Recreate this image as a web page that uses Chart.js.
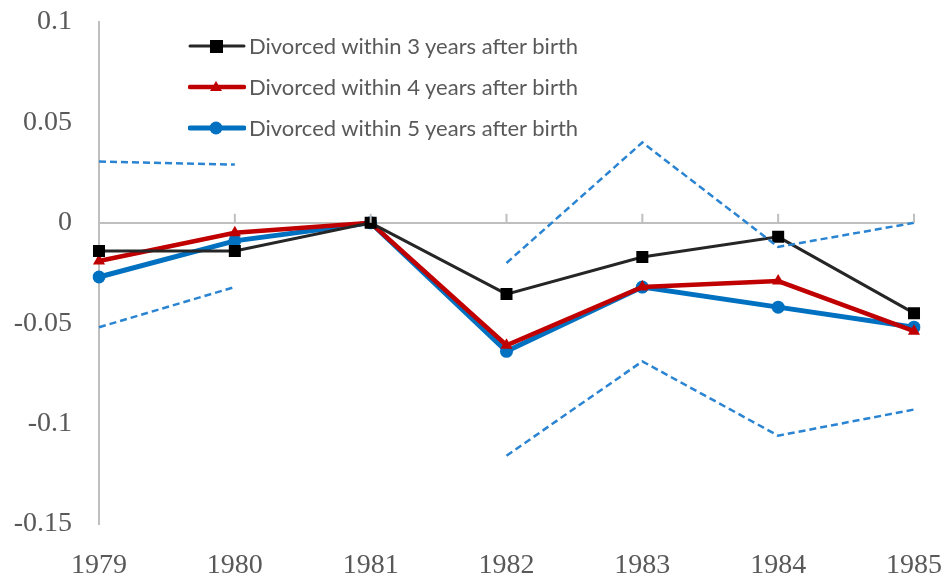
<!DOCTYPE html>
<html>
<head>
<meta charset="utf-8">
<script src="https://cdn.jsdelivr.net/npm/chart.js@4"></script>
<style>
  html, body { margin: 0; padding: 0; background: #fff; }
  #wrap { position: relative; width: 944px; height: 576px; }
  #legend { position: absolute; left: 188px; top: 25px; font-family: Lato, 'Open Sans', sans-serif; font-size: 22px; color: #595959; }
  #legend .row { display: flex; align-items: center; height: 41px; }
  #legend svg { margin-right: 3px; }
</style>
</head>
<body>
<div id="wrap">
  <canvas id="divorceChart" width="944" height="576"></canvas>
  <div id="legend"></div>
</div>
<script>
// Dados
const years = ['1979', '1980', '1981', '1982', '1983', '1984', '1985'];
const within3 = [-0.014, -0.014, 0, -0.0355, -0.017, -0.007, -0.045];
const within4 = [-0.019, -0.005, 0, -0.061, -0.032, -0.029, -0.054];
const within5 = [-0.027, -0.009, 0, -0.064, -0.032, -0.042, -0.052];
const ciUpper = [0.0305, 0.029, null, -0.020, 0.040, -0.012, 0.0];
const ciLower = [-0.052, -0.032, null, -0.116, -0.069, -0.106, -0.093];
const seriesNames = ['Divorced within 3 years after birth', 'Divorced within 4 years after birth', 'Divorced within 5 years after birth'];

const axisGray = '#bfbfbf';
const labelGray = '#595959';

// marcas no eixo zero
const zeroTicks = {
    id: 'zeroTicks',
    afterDraw(chart) {
        const ctx = chart.ctx;
        const x = chart.scales.x;
        const zero = chart.scales.y.getPixelForValue(0);
        ctx.save();
        ctx.strokeStyle = axisGray;
        ctx.lineWidth = 2;
        x.ticks.forEach(function(t, i) {
            const px = x.getPixelForTick(i);
            ctx.beginPath();
            ctx.moveTo(px, zero);
            ctx.lineTo(px, zero - 9);
            ctx.stroke();
        });
        ctx.restore();
    }
};

function noLabelPadding(scale) {
    scale.paddingTop = 0;
    scale.paddingBottom = 0;
    scale.paddingLeft = 0;
    scale.paddingRight = 0;
}

const ctx = document.getElementById('divorceChart').getContext('2d');
const tickFont = { family: '"Liberation Serif", "Times New Roman", serif', size: 28 };
const chart = new Chart(ctx, {
    type: 'line',
    data: {
        labels: years,
        datasets: [
            {
                label: 'upper',
                data: ciUpper,
                borderColor: '#2a84d2',
                borderWidth: 2.5,
                borderDash: [7, 4],
                pointRadius: 0,
                spanGaps: false
            },
            {
                label: 'lower',
                data: ciLower,
                borderColor: '#2a84d2',
                borderWidth: 2.5,
                borderDash: [7, 4],
                pointRadius: 0,
                spanGaps: false
            },
            {
                label: seriesNames[0],
                data: within3,
                borderColor: '#262626',
                backgroundColor: '#000000',
                borderWidth: 3,
                pointStyle: 'rect',
                pointRadius: 8.5,
                pointBorderWidth: 0
            },
            {
                label: seriesNames[1],
                data: within4,
                borderColor: '#c00000',
                backgroundColor: '#c00000',
                borderWidth: 4.5,
                pointStyle: 'triangle',
                pointRadius: 7,
                pointBorderWidth: 0
            },
            {
                label: seriesNames[2],
                data: within5,
                borderColor: '#0070c0',
                backgroundColor: '#0070c0',
                borderWidth: 5,
                pointStyle: 'circle',
                pointRadius: 6.5,
                pointBorderWidth: 0
            }
        ]
    },
    options: {
        responsive: false,
        animation: false,
        layout: { padding: { top: 22, right: 30, left: 0, bottom: 0 } },
        plugins: {
            legend: { display: false },
            tooltip: { enabled: false }
        },
        scales: {
            x: {
                offset: false,
                grid: { display: false },
                border: { display: false },
                ticks: { color: labelGray, font: tickFont, padding: 17, maxRotation: 0, autoSkip: false },
                afterFit: function(scale) { scale.height = 52; noLabelPadding(scale); }
            },
            y: {
                min: -0.15,
                max: 0.1,
                ticks: {
                    stepSize: 0.05,
                    color: labelGray,
                    font: tickFont,
                    padding: 27,
                    callback: function(v) { return String(+v.toFixed(2)); }
                },
                grid: {
                    drawTicks: false,
                    lineWidth: 2,
                    color: function(c) { return c.tick && Math.abs(c.tick.value) < 1e-9 ? axisGray : 'rgba(0,0,0,0)'; }
                },
                border: { display: true, color: axisGray, width: 2 },
                afterFit: function(scale) { scale.width = 99; noLabelPadding(scale); }
            }
        }
    },
    plugins: [zeroTicks]
});

// Legenda montada a partir dos datasets
const legendEl = document.getElementById('legend');
const markers = ['<rect x="22" y="5" width="13" height="13" fill="#000"/>',
                 '<polygon points="28,5 34,15 22,15" fill="#c00000"/>',
                 '<circle cx="28" cy="11" r="6.5" fill="#0070c0"/>'];
chart.data.datasets.slice(2).forEach(function(ds, i) {
    const row = document.createElement('div');
    row.className = 'row';
    row.innerHTML = '<svg width="58" height="22"><line x1="2" y1="11" x2="56" y2="11" stroke="' + ds.borderColor +
        '" stroke-width="' + ds.borderWidth + '" stroke-linecap="round"/>' + markers[i] + '</svg><span>' + ds.label + '</span>';
    legendEl.appendChild(row);
});
</script>
</body>
</html>
